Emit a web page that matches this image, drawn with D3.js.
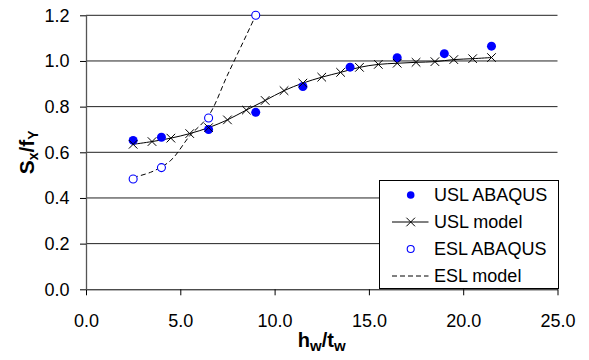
<!DOCTYPE html>
<html>
<head>
<meta charset="utf-8">
<script src="https://cdn.jsdelivr.net/npm/d3@7/dist/d3.min.js"></script>
<style>
  html, body { margin: 0; padding: 0; background: #fff; }
  svg { display: block; font-family: "Liberation Sans", Arial, sans-serif; }
</style>
</head>
<body>
<svg id="chart" width="589" height="360"></svg>
<script>
// Slenderness h_w/t_w sampled by the FE runs
const abaqusX = [2.5, 4.0, 6.5, 9.0, 11.5, 14.0, 16.5, 19.0, 21.5];
// Ultimate state limit, FE results
const uslAbaqus = [0.652, 0.666, 0.700, 0.775, 0.888, 0.973, 1.014, 1.032, 1.065];
// Elastic state limit, FE results (first four runs)
const eslAbaqusX = [2.5, 4.0, 6.5, 9.0];
const eslAbaqus = [0.483, 0.533, 0.750, 1.200];
// Ultimate state limit, design model
const uslModelX = [2.5, 3.5, 4.5, 5.5, 6.5, 7.5, 8.5, 9.5, 10.5, 11.5, 12.5, 13.5, 14.5, 15.5, 16.5, 17.5, 18.5, 19.5, 20.5, 21.5];
const uslModel = [0.635, 0.647, 0.662, 0.682, 0.708, 0.742, 0.785, 0.827, 0.870, 0.903, 0.929, 0.950, 0.972, 0.985, 0.990, 0.994, 0.997, 1.006, 1.010, 1.015];
// Elastic state limit, design model
const eslModelX = [2.5, 3.5, 4.5, 5.5, 6.5, 7.5, 8.5, 9.0];
const eslModel = [0.490, 0.515, 0.565, 0.672, 0.760, 0.938, 1.112, 1.200];
// Axis ticks
const xTicks = [0, 5, 10, 15, 20, 25];
const yTicks = [0, 0.2, 0.4, 0.6, 0.8, 1.0, 1.2];
const legendLabels = ["USL ABAQUS", "USL model", "ESL ABAQUS", "ESL model"];

const BLUE = "#0000ff";
const svg = d3.select("#chart");

const x = d3.scaleLinear().domain([0, 25]).range([86, 557.5]);
const y = d3.scaleLinear().domain([0, 1.2]).range([289.3, 15.3]);

// Horizontal gridlines
svg.append("g")
  .selectAll("line")
  .data(yTicks.filter(v => v > 0))
  .join("line")
  .attr("x1", x(0)).attr("x2", x(25))
  .attr("y1", d => y(d)).attr("y2", d => y(d))
  .attr("stroke", "#222").attr("stroke-width", 1);

// Axes
const fmt = d3.format(".1f");
const xAxis = svg.append("g")
  .attr("transform", `translate(0,${y(0)})`)
  .call(d3.axisBottom(x).tickValues(xTicks).tickFormat(fmt).tickSize(6).tickSizeOuter(0).tickPadding(18.5));
const yAxis = svg.append("g")
  .attr("transform", `translate(${x(0)},0)`)
  .call(d3.axisLeft(y).tickValues(yTicks).tickFormat(fmt).tickSize(6).tickSizeOuter(0).tickPadding(10.5));

[xAxis, yAxis].forEach(g => {
  g.selectAll("text").attr("font-size", 18).attr("fill", "#000")
    .attr("font-family", "'Liberation Sans', Arial, sans-serif");
  g.selectAll("line").attr("stroke", "#000");
  g.select(".domain").attr("stroke", "#000");
});
yAxis.select(".domain").attr("stroke", "#555").attr("stroke-width", 1.3);

// Axis titles
const xTitle = svg.append("text")
  .attr("x", (x(0) + x(25)) / 2).attr("y", 346.5)
  .attr("text-anchor", "middle")
  .attr("font-weight", "bold").attr("font-size", 20);
xTitle.append("tspan").text("h");
xTitle.append("tspan").attr("font-size", 15).attr("dy", 4).text("w");
xTitle.append("tspan").attr("dy", -4).text("/t");
xTitle.append("tspan").attr("font-size", 15).attr("dy", 4).text("w");

const yTitle = svg.append("text")
  .attr("transform", `translate(34,${(y(0) + y(1.2)) / 2}) rotate(-90)`)
  .attr("text-anchor", "middle")
  .attr("font-weight", "bold").attr("font-size", 21);
yTitle.append("tspan").text("S");
yTitle.append("tspan").attr("font-size", 14).attr("dy", 4).text("x");
yTitle.append("tspan").attr("dy", -4).text("/f");
yTitle.append("tspan").attr("font-size", 14).attr("dy", 4).text("Y");

// ESL model (dashed curve)
const eslPts = eslModelX.map((v, i) => [v, eslModel[i]]);
svg.append("path")
  .datum(eslPts)
  .attr("fill", "none").attr("stroke", "#000").attr("stroke-width", 1)
  .attr("stroke-dasharray", "5,3")
  .attr("d", d3.line().x(d => x(d[0])).y(d => y(d[1])).curve(d3.curveCatmullRom.alpha(0.5)));

// USL model (solid curve with cross markers)
const uslPts = uslModelX.map((v, i) => [v, uslModel[i]]);
svg.append("path")
  .datum(uslPts)
  .attr("fill", "none").attr("stroke", "#000").attr("stroke-width", 1)
  .attr("d", d3.line().x(d => x(d[0])).y(d => y(d[1])).curve(d3.curveCatmullRom.alpha(0.5)));

// USL ABAQUS (filled blue dots)
svg.append("g")
  .selectAll("circle")
  .data(abaqusX.map((v, i) => [v, uslAbaqus[i]]))
  .join("circle")
  .attr("cx", d => x(d[0])).attr("cy", d => y(d[1]))
  .attr("r", 4.5).attr("fill", BLUE);

const crossPath = s => `M${-s},${-s}L${s},${s}M${-s},${s}L${s},${-s}`;
svg.append("g")
  .selectAll("path")
  .data(uslPts)
  .join("path")
  .attr("transform", d => `translate(${x(d[0])},${y(d[1])})`)
  .attr("d", crossPath(4.3))
  .attr("stroke", "#000").attr("stroke-width", 1).attr("fill", "none");

// ESL ABAQUS (open blue circles)
svg.append("g")
  .selectAll("circle")
  .data(eslAbaqusX.map((v, i) => [v, eslAbaqus[i]]))
  .join("circle")
  .attr("cx", d => x(d[0])).attr("cy", d => y(d[1]))
  .attr("r", 4).attr("fill", "#fff").attr("stroke", BLUE).attr("stroke-width", 1.1);

// Legend
const lg = svg.append("g");
lg.append("rect")
  .attr("x", 379.5).attr("y", 180.5).attr("width", 179).attr("height", 108)
  .attr("fill", "#fff").attr("stroke", "#000").attr("stroke-width", 1);
const rowY = i => 195 + i * 27;
const symX = 410.7;
legendLabels.forEach((label, i) => {
  lg.append("text")
    .attr("x", 434).attr("y", rowY(i)).attr("dy", "0.35em")
    .attr("font-size", 18).attr("fill", "#000").text(label);
});
lg.append("circle").attr("cx", symX).attr("cy", rowY(0)).attr("r", 3.8).attr("fill", BLUE);
lg.append("line").attr("x1", 392).attr("x2", 428.5).attr("y1", rowY(1)).attr("y2", rowY(1))
  .attr("stroke", "#000").attr("stroke-width", 1);
lg.append("path").attr("transform", `translate(${symX},${rowY(1)})`).attr("d", crossPath(4.3))
  .attr("stroke", "#000").attr("stroke-width", 1);
lg.append("circle").attr("cx", symX).attr("cy", rowY(2)).attr("r", 3.5)
  .attr("fill", "#fff").attr("stroke", BLUE).attr("stroke-width", 1.1);
lg.append("line").attr("x1", 392).attr("x2", 428.5).attr("y1", rowY(3)).attr("y2", rowY(3))
  .attr("stroke", "#000").attr("stroke-width", 1).attr("stroke-dasharray", "5,3");
</script>
</body>
</html>
